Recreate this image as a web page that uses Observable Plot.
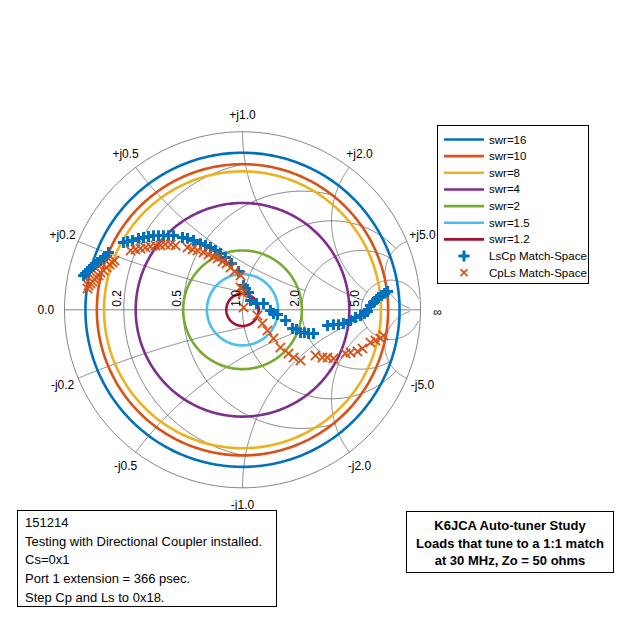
<!DOCTYPE html>
<html><head><meta charset="utf-8">
<script src="https://cdn.jsdelivr.net/npm/d3@7"></script>
<script src="https://cdn.jsdelivr.net/npm/@observablehq/plot@0.6"></script>
<style>
body{margin:0;background:#fff;font-family:"Liberation Sans",Arial,sans-serif;}
#wrap{position:relative;width:640px;height:640px;overflow:hidden;}
#wrap svg.plot{position:absolute;left:0;top:0;}
.box{position:absolute;border:1px solid #000;background:#fff;color:#000;box-sizing:border-box;}
#notes{left:17px;top:510px;width:260px;height:97px;font-size:13px;line-height:18.7px;padding:3px 0 0 7px;}
#title{left:406px;top:511px;width:208px;height:62px;font-size:13px;font-weight:bold;line-height:17.5px;padding-top:5px;text-align:center;}
#legend{left:437px;top:125px;width:152px;height:159px;}
</style></head><body><div id="wrap"></div>
<script>
// ---- data ----
const swrValues = [16, 10, 8, 4, 2, 1.5, 1.2];
const swrColors = ["#0072BD", "#D95319", "#EDB120", "#7E2F8E", "#77AC30", "#4DBEEE", "#A2142F"];
const gridValues = [0.2, 0.5, 1, 2, 5];
const gridEnds = [1, 2, 5, 5, 30];
const resistanceLabels = ["0.2", "0.5", "1.0", "2.0", "5.0"];
const reactanceLabels = ["j0.2", "j0.5", "j1.0", "j2.0", "j5.0"];
// LsCp match-space, reflection coefficient (re, im)
const lscpRe = [-0.893,-0.882,-0.871,-0.860,-0.848,-0.837,-0.826,-0.815,-0.798,-0.781,-0.764,-0.753,-0.669,-0.646,-0.618,-0.584,-0.556,-0.528,-0.500,-0.472,-0.444,-0.416,-0.388,-0.337,-0.309,-0.275,-0.236,-0.208,-0.180,-0.152,-0.124,-0.096,-0.062,-0.022,0.006,0.017,0.034,0.045,0.079,0.118,0.157,0.174,0.197,0.242,0.281,0.303,0.326,0.348,0.371,0.399,0.478,0.511,0.539,0.567,0.607,0.635,0.663,0.685,0.702,0.719,0.736,0.753,0.764,0.781,0.798,0.815];
const lscpIm = [0.193,0.204,0.215,0.226,0.238,0.243,0.254,0.266,0.277,0.288,0.299,0.322,0.378,0.384,0.389,0.401,0.406,0.412,0.417,0.417,0.417,0.417,0.417,0.406,0.401,0.389,0.372,0.361,0.350,0.333,0.316,0.294,0.260,0.215,0.137,0.120,0.097,0.052,0.035,0.035,-0.004,-0.021,-0.026,-0.060,-0.105,-0.111,-0.128,-0.128,-0.133,-0.133,-0.088,-0.083,-0.083,-0.077,-0.060,-0.043,-0.032,-0.021,-0.010,0.024,0.041,0.058,0.069,0.080,0.092,0.103];
// CpLs match-space
const cplsRe = [-0.871,-0.865,-0.854,-0.843,-0.831,-0.820,-0.809,-0.798,-0.781,-0.764,-0.747,-0.730,-0.719,-0.629,-0.601,-0.573,-0.545,-0.517,-0.489,-0.461,-0.433,-0.404,-0.376,-0.309,-0.281,-0.253,-0.219,-0.191,-0.163,-0.140,-0.112,-0.090,-0.067,-0.045,-0.011,-0.011,0.000,0.006,0.084,0.112,0.140,0.174,0.213,0.258,0.287,0.326,0.410,0.449,0.478,0.511,0.579,0.607,0.646,0.674,0.719,0.747,0.775,0.792];
const cplsIm = [0.120,0.137,0.148,0.159,0.170,0.181,0.193,0.210,0.221,0.238,0.254,0.266,0.277,0.333,0.339,0.344,0.350,0.356,0.361,0.361,0.367,0.367,0.361,0.350,0.339,0.333,0.322,0.311,0.299,0.288,0.271,0.260,0.238,0.215,0.193,0.125,0.092,0.013,-0.032,-0.077,-0.116,-0.161,-0.212,-0.246,-0.268,-0.285,-0.257,-0.268,-0.268,-0.274,-0.246,-0.240,-0.234,-0.217,-0.184,-0.172,-0.161,-0.144];
const notesLines = ["151214", "Testing with Directional Coupler installed.", "Cs=0x1", "Port 1 extension = 366 psec.", "Step Cp and Ls to 0x18."];
const titleLines = ["K6JCA Auto-tuner Study", "Loads that tune to a 1:1 match", "at 30 MHz, Zo = 50 ohms"];
const seriesNames = ["LsCp Match-Space", "CpLs Match-Space"];

// ---- geometry helpers ----
function gam(zr, zi) { const ar = zr - 1, br = zr + 1, d = br * br + zi * zi; return [(ar * br + zi * zi) / d, (zi * br - ar * zi) / d]; }
const N = 240;
const gridLines = [];
let gid = 0;
function arc(cx, cy, rad, t0, t1, id) {
  for (let i = 0; i <= N; i++) { const t = t0 + (t1 - t0) * i / N; gridLines.push({x: cx + rad * Math.cos(t), y: cy + rad * Math.sin(t), id}); }
}
arc(0, 0, 1, 0, 2 * Math.PI, gid++);
gridLines.push({x: -1, y: 0, id: gid}, {x: 1, y: 0, id: gid}); gid++;
gridValues.forEach((v, k) => {
  const e = gridEnds[k];
  const c = v / (1 + v), rho = 1 / (1 + v);
  const G = gam(v, e);
  const te = Math.atan2(G[1], G[0] - c);
  arc(c, 0, rho, te, 2 * Math.PI - te, gid++);
  for (const s of [1, -1]) {
    const xv = s * v, cy = 1 / xv, R = 1 / v;
    const G0 = gam(0, xv), Ge = gam(e, xv);
    const t0 = Math.atan2(G0[1] - cy, G0[0] - 1);
    let t1 = Math.atan2(Ge[1] - cy, Ge[0] - 1);
    let d = t1 - t0; while (d > Math.PI) d -= 2 * Math.PI; while (d <= -Math.PI) d += 2 * Math.PI;
    arc(1, cy, R, t0, t0 + d, gid++);
  }
});

const swrLines = [];
swrValues.forEach((s, k) => {
  const g = (s - 1) / (s + 1);
  for (let i = 0; i <= 360; i++) { const t = 2 * Math.PI * i / 360; swrLines.push({x: g * Math.cos(t), y: g * Math.sin(t), swr: "swr=" + s, color: swrColors[k]}); }
});

const lscp = lscpRe.map((re, i) => ({re, im: lscpIm[i]}));
const cpls = cplsRe.map((re, i) => ({re, im: cplsIm[i]}));

const outerLabels = [];
gridValues.forEach((v, k) => {
  for (const s of [1, -1]) {
    const G = gam(0, s * v);
    outerLabels.push({x: G[0] * 1.095, y: G[1] * 1.095, t: (s > 0 ? "+" : "-") + reactanceLabels[k]});
  }
});
outerLabels.push({x: -1.105, y: 0, t: "0.0"}, {x: 1.095, y: -0.012, t: "\u221E"});
const rLabels = gridValues.map((v, k) => ({x: (v - 1) / (v + 1), y: 0, t: resistanceLabels[k]}));

const plot = Plot.plot({
  width: 640, height: 640,
  x: {domain: [-1, 1], range: [64, 420], axis: null},
  y: {domain: [-1, 1], range: [487.3, 131.3], axis: null},
  style: {fontFamily: "Liberation Sans, Arial, sans-serif", background: "transparent"},
  marks: [
    Plot.line(gridLines, {x: "x", y: "y", z: "id", stroke: "#666", strokeWidth: 0.8, curve: "linear"}),
    Plot.line(swrLines, {x: "x", y: "y", z: "swr", stroke: "color", strokeWidth: 2.6}),
    Plot.dot(lscp, {x: "re", y: "im", symbol: "plus", r: 3.6, stroke: "#0072BD", strokeWidth: 3}),
    Plot.dot(cpls, {x: "re", y: "im", symbol: "times", r: 4.3, stroke: "#D95319", strokeWidth: 1.8}),
    Plot.text(outerLabels, {x: "x", y: "y", text: "t", fontSize: 12, fill: "#000", textAnchor: "middle", lineAnchor: "middle"}),
    Plot.text(rLabels, {x: "x", y: "y", text: "t", fontSize: 12, fill: "#000", rotate: -90, textAnchor: "start", lineAnchor: "bottom", dx: -2.5, dy: -3})
  ]
});
plot.classList.add("plot");
const wrap = document.getElementById("wrap");
wrap.appendChild(plot);

const NS = "http://www.w3.org/2000/svg";
const leg = document.createElement("div"); leg.id = "legend"; leg.className = "box";
const ls = document.createElementNS(NS, "svg"); ls.setAttribute("width", 150); ls.setAttribute("height", 157);
let html = "";
swrValues.forEach((s, k) => {
  const y = 13.5 + 16.65 * k;
  html += `<line x1="6" x2="46" y1="${y}" y2="${y}" stroke="${swrColors[k]}" stroke-width="2.6"/>`;
  html += `<text x="51" y="${y}" dy="0.35em" font-size="11.5" fill="#000">swr=${s}</text>`;
});
const yp = 13.5 + 16.65 * 7, yx = 13.5 + 16.65 * 8;
html += `<path d="M20.5,${yp}h11M26,${yp - 5.5}v11" stroke="#0072BD" stroke-width="3" fill="none"/>`;
html += `<text x="51" y="${yp}" dy="0.35em" font-size="11.5">${seriesNames[0]}</text>`;
html += `<path d="M22.5,${yx - 3.5}l7,7M22.5,${yx + 3.5}l7,-7" stroke="#D95319" stroke-width="1.8" fill="none"/>`;
html += `<text x="51" y="${yx}" dy="0.35em" font-size="11.5">${seriesNames[1]}</text>`;
ls.innerHTML = html;
leg.appendChild(ls);
wrap.appendChild(leg);

const notes = document.createElement("div"); notes.id = "notes"; notes.className = "box";
notes.innerHTML = notesLines.map(l => `<div>${l}</div>`).join("");
wrap.appendChild(notes);
const title = document.createElement("div"); title.id = "title"; title.className = "box";
title.innerHTML = titleLines.map(l => `<div>${l}</div>`).join("");
wrap.appendChild(title);
</script></body></html>
